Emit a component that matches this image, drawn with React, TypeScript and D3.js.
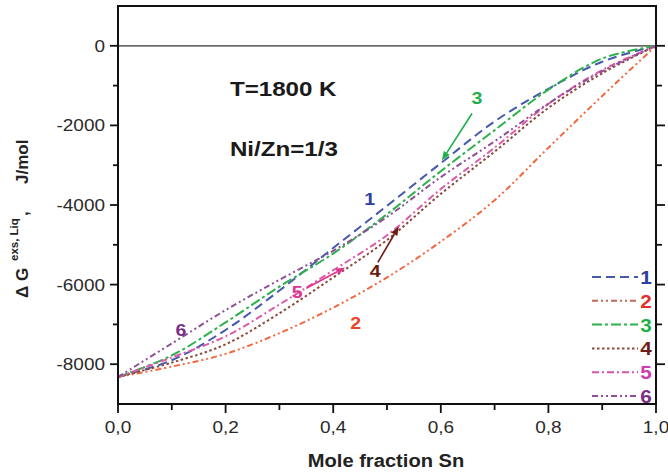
import React from "react";
import * as d3 from "d3";

// mole fraction of Sn where the curves were read
const xSn = [0, 0.1, 0.2, 0.3, 0.4, 0.5, 0.6, 0.7, 0.8, 0.9, 1.0];
// excess Gibbs energy (J/mol)
const g1 = [-8320, -7900, -7140, -6150, -5080, -4020, -2950, -1900, -1080, -400, 0];
const g2 = [-8320, -8060, -7740, -7220, -6580, -5820, -4920, -3880, -2560, -1260, 0];
const g3 = [-8320, -7780, -6950, -6050, -5220, -4230, -3150, -2120, -1100, -320, 0];
const g4 = [-8320, -7960, -7500, -6720, -5820, -4880, -3720, -2660, -1560, -690, 0];
const g5 = [-8320, -7830, -7300, -6500, -5640, -4760, -3600, -2560, -1460, -610, 0];
const g6 = [-8320, -7480, -6640, -5880, -5150, -4300, -3300, -2400, -1450, -640, 0];

const seriesNames = ["1", "2", "3", "4", "5", "6"];
const seriesValues = [g1, g2, g3, g4, g5, g6];
const lineColors = ["#4659ad", "#f2693f", "#2db14b", "#8c4a3c", "#dc5aa8", "#8e4f96"];
const legendLineColors = ["#4659ad", "#c0675c", "#2db14b", "#8c4a3c", "#d455a8", "#8e4f96"];
const labelColors = ["#2c3f9e", "#ef4128", "#1faf4a", "#6e1d12", "#e0338f", "#7a2f85"];
const legendLabelColors = ["#2c3f9e", "#e3302a", "#1faf4a", "#6e1d12", "#d23bb0", "#7a2f85"];
const dashes = ["9,5", "6,3,2,3,2,3", "10,3,3,3", "2.5,2.5", "7,3,2,3", "6,3,2,3,2,3"];

const xMajor = [0, 0.2, 0.4, 0.6, 0.8, 1.0];
const xMinor = [0.1, 0.3, 0.5, 0.7, 0.9];
const yMajor = [0, -2000, -4000, -6000, -8000];
const yMinor = [-1000, -3000, -5000, -7000];

// curve labels in the plot: [name, x, g]
const curveLabels: [number, number, number][] = [
  [0, 0.468, -3850],
  [1, 0.442, -6960],
  [2, 0.667, -1320],
  [3, 0.478, -5650],
  [4, 0.333, -6180],
  [5, 0.117, -7130],
];
// arrows: [series, x0, g0, x1, g1]
const arrows: [number, number, number, number, number][] = [
  [2, 0.658, -1700, 0.602, -2880],
  [3, 0.483, -5440, 0.522, -4540],
  [4, 0.350, -6090, 0.422, -5570],
];

const W = 668;
const H = 473;
const FONT = "Liberation Sans, Arial, sans-serif";

const SText = ({ x, y, sx = 1.15, anchor = "start", size, weight = "normal", fill = "#222", children }: any) => (
  <text
    transform={`translate(${x},${y}) scale(${sx},1)`}
    textAnchor={anchor}
    fontSize={size}
    fontWeight={weight}
    fill={fill}
    fontFamily={FONT}
  >
    {children}
  </text>
);

const App = () => {
  const x = d3.scaleLinear().domain([0, 1]).range([118, 656]);
  const y = d3.scaleLinear().domain([-9000, 1000]).range([404, 6]);

  const line = d3
    .line<number>()
    .x((d, i) => x(xSn[i]))
    .y((d) => y(d))
    .curve(d3.curveCatmullRom.alpha(0.5));

  const [x0, x1] = x.range();
  const [y0, y1] = y.range();

  return (
    <svg width={W} height={H} style={{ position: "absolute", left: 0, top: 0, background: "#fff" }}>
      {/* zero line */}
      <line x1={x0} x2={x1} y1={y(0)} y2={y(0)} stroke="#333" strokeWidth={1.2} />

      {/* curves */}
      {seriesValues.map((vals, i) => (
        <path
          key={i}
          d={line(vals) || ""}
          fill="none"
          stroke={lineColors[i]}
          strokeWidth={2}
          strokeDasharray={dashes[i]}
        />
      ))}

      {/* frame */}
      <rect x={x0} y={y1} width={x1 - x0} height={y0 - y1} fill="none" stroke="#111" strokeWidth={2} />

      {/* x ticks */}
      {xMajor.map((t) => (
        <g key={"xm" + t}>
          <line x1={x(t)} x2={x(t)} y1={y0} y2={y0 + 9} stroke="#111" strokeWidth={1.8} />
          <SText x={x(t)} y={433} anchor="middle" size={16.5} fill="#2a2a2a">
            {t.toFixed(1).replace(".", ",")}
          </SText>
        </g>
      ))}
      {xMinor.map((t) => (
        <line key={"xn" + t} x1={x(t)} x2={x(t)} y1={y0} y2={y0 + 6} stroke="#111" strokeWidth={1.8} />
      ))}

      {/* y ticks, left and right */}
      {yMajor.map((t) => (
        <g key={"ym" + t}>
          <line x1={x0 - 8} x2={x0} y1={y(t)} y2={y(t)} stroke="#111" strokeWidth={1.8} />
          <line x1={x1} x2={x1 + 9} y1={y(t)} y2={y(t)} stroke="#111" strokeWidth={1.8} />
          <SText x={105} y={y(t) + 6} anchor="end" size={16.5} fill="#2a2a2a">
            {t}
          </SText>
        </g>
      ))}
      {yMinor.map((t) => (
        <g key={"yn" + t}>
          <line x1={x0 - 5} x2={x0} y1={y(t)} y2={y(t)} stroke="#111" strokeWidth={1.8} />
          <line x1={x1} x2={x1 + 6} y1={y(t)} y2={y(t)} stroke="#111" strokeWidth={1.8} />
        </g>
      ))}

      {/* axis titles */}
      <SText x={386} y={467} anchor="middle" size={19} weight="bold" sx={1.06} fill="#222">
        Mole fraction Sn
      </SText>
      <g fontFamily={FONT} fontWeight="bold" fill="#222">
        <text transform="translate(28,298) rotate(-90)" fontSize={17}>
          Δ G
        </text>
        <text transform="translate(18,261) rotate(-90)" fontSize={11.5}>
          exs, Liq
        </text>
        <text transform="translate(28,216) rotate(-90)" fontSize={17}>
          ,
        </text>
        <text transform="translate(28,184) rotate(-90)" fontSize={17}>
          J/mol
        </text>
      </g>

      {/* annotations */}
      <SText x={x(0.208)} y={y(-1250)} size={21} weight="bold" fill="#1a1a1a">
        T=1800 K
      </SText>
      <SText x={x(0.208)} y={y(-2760)} size={21} weight="bold" fill="#1a1a1a">
        Ni/Zn=1/3
      </SText>

      {arrows.map(([s, ax0, ag0, ax1, ag1], i) => {
        const px0 = x(ax0);
        const py0 = y(ag0);
        const px1 = x(ax1);
        const py1 = y(ag1);
        const ang = Math.atan2(py1 - py0, px1 - px0);
        const L = 9;
        const Wd = 3.5;
        const bx = px1 - L * Math.cos(ang);
        const by = py1 - L * Math.sin(ang);
        const pts = [
          [px1, py1],
          [bx + Wd * Math.sin(ang), by - Wd * Math.cos(ang)],
          [bx - Wd * Math.sin(ang), by + Wd * Math.cos(ang)],
        ];
        return (
          <g key={"ar" + i}>
            <line x1={px0} y1={py0} x2={bx} y2={by} stroke={labelColors[s]} strokeWidth={1.6} />
            <polygon points={pts.map((p) => p.join(",")).join(" ")} fill={labelColors[s]} />
          </g>
        );
      })}

      {curveLabels.map(([s, lx, lg]) => (
        <SText key={"cl" + s} x={x(lx)} y={y(lg) + 6} anchor="middle" size={17} weight="bold" fill={labelColors[s]}>
          {seriesNames[s]}
        </SText>
      ))}

      {/* legend */}
      {seriesNames.map((name, i) => {
        const ly = 277 + i * 23.8;
        return (
          <g key={"lg" + name}>
            <line
              x1={592}
              x2={638}
              y1={ly}
              y2={ly}
              stroke={legendLineColors[i]}
              strokeWidth={2}
              strokeDasharray={dashes[i]}
            />
            <SText x={646} y={ly + 7} anchor="middle" size={18} weight="bold" fill={legendLabelColors[i]}>
              {name}
            </SText>
          </g>
        );
      })}
    </svg>
  );
};

export default App;
